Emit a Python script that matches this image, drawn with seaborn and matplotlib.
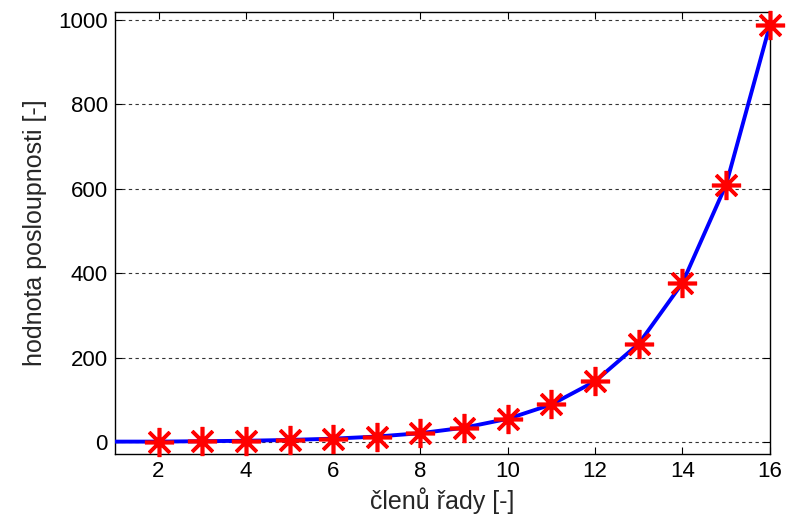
import matplotlib
matplotlib.use("Agg")
import matplotlib.pyplot as plt
import seaborn as sns
import pandas as pd

line_x = [1, 2, 3, 4, 5, 6, 7, 8, 9, 10, 11, 12, 13, 14, 15, 16]
line_y = [1, 1, 2, 3, 5, 8, 13, 21, 34, 55, 89, 144, 233, 377, 610, 987]
marker_x = [2, 3, 4, 5, 6, 7, 8, 9, 10, 11, 12, 13, 14, 15, 16]
marker_y = [1, 2, 3, 5, 8, 13, 21, 34, 55, 89, 144, 233, 377, 610, 987]
x_ticks = [2, 4, 6, 8, 10, 12, 14, 16]
y_ticks = [0, 200, 400, 600, 800, 1000]

sns.set_style("white")
plt.rcParams['font.family'] = ['Liberation Sans', 'DejaVu Sans']

fig = plt.figure(figsize=(7.92, 5.14), dpi=100)
ax = fig.add_axes([0.145, 0.117, 0.827, 0.86])

df_line = pd.DataFrame({"x": line_x, "y": line_y})
df_mark = pd.DataFrame({"x": marker_x, "y": marker_y})

sns.lineplot(data=df_line, x="x", y="y", ax=ax, color="blue", linewidth=2.8, zorder=3)
sns.lineplot(data=df_mark, x="x", y="y", ax=ax, color="red", linestyle="none",
             marker=(8, 2, 0), markersize=21, markeredgewidth=2.6,
             markeredgecolor="red", zorder=4, clip_on=False)

ax.set_xlim(1, 16)
ax.set_ylim(-28, 1019)
ax.set_xticks(x_ticks)
ax.set_yticks(y_ticks)
ax.tick_params(direction="in", length=5, width=0.8, labelsize=16, colors="black",
               top=True, right=True, bottom=True, left=True, pad=5)
ax.yaxis.grid(True, linestyle=(0, (3, 3)), color="#333333", linewidth=0.8)
ax.xaxis.grid(False)
for s in ax.spines.values():
    s.set_color("black")
    s.set_linewidth(1.0)
    s.set_visible(True)

ax.set_xlabel("členů řady [-]", fontsize=18, labelpad=4)
ax.set_ylabel("hodnota posloupnosti [-]", fontsize=18, labelpad=8)

fig.savefig("out.png", dpi=100)
